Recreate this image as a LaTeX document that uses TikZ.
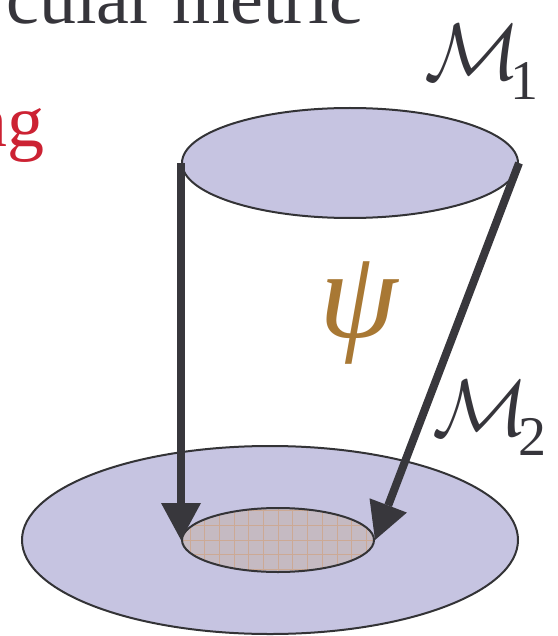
\RequirePackage{fix-cm}
\documentclass[tikz,border=0pt]{standalone}
\usepackage{fontspec}
\setmainfont{Liberation Serif}
\usepackage{tikz}
\usetikzlibrary{arrows.meta, shapes.geometric}
\definecolor{discfill}{RGB}{198,196,225}
\definecolor{rimgray}{RGB}{51,51,54}
\definecolor{arrowgray}{RGB}{56,55,60}
\definecolor{patchfill}{RGB}{197,186,194}
\definecolor{gridorange}{RGB}{214,150,96}
\definecolor{psibrown}{RGB}{168,120,52}
\definecolor{slidered}{RGB}{204,34,51}
\definecolor{slidegray}{RGB}{54,53,59}
\newcommand{\manlabel}[1]{$\mathcal{M}$\kern-10pt\raisebox{-20pt}{\fontsize{56}{60}\selectfont #1}}

\begin{document}
\begin{tikzpicture}[x=1pt, y=-1pt, line join=round,
    disc/.style={
        ellipse,
        draw=rimgray,
        line width=2pt,
        fill=discfill,
        inner sep=0pt
    },
    patch/.style={
        disc,
        fill=patchfill,
        path picture={\draw[gridorange, line width=0.5pt, opacity=0.45]
            (path picture bounding box.south west) grid[step=14.7pt]
            (path picture bounding box.north east);}
    },
    maparrow/.style={
        arrowgray,
        line width=8pt,
        -{Triangle[length=37pt, width=40pt, line width=0pt]}
    },
    slide/.style={
        font=\fontsize{74}{80}\selectfont,
        anchor=base east,
        inner sep=0pt
    },
    manifold/.style={
        font=\fontsize{80}{84}\selectfont,
        text=slidegray,
        anchor=base west,
        inner sep=0pt
    }
]
\useasboundingbox (0,0) rectangle (557,636);
\clip (0,0) rectangle (557,636);

% the two sheets and the image patch
\node[disc, minimum width=496pt, minimum height=188pt] (base) at (270,540) {};
\node[patch, minimum width=192pt, minimum height=64pt] (spot) at (278,540) {};
\node[disc, minimum width=336pt, minimum height=110pt] (top) at (350,163) {};

\draw[maparrow] (top.west) -- (spot.west);
\draw[maparrow] (top.east) -- (spot.east);

% labels
\node[slide, text=slidegray] (metric) at (362,24) {cular metric};
\node[slide, text=slidered] (ing) at (45,147) {ng};
\node[manifold] (m1) at (424,80) {\manlabel{1}};
\node[manifold] (m2) at (432,435) {\manlabel{2}};
\node[font=\fontsize{126}{130}\selectfont\itshape, text=psibrown] (psi) at (359,313) {ψ};

\end{tikzpicture}
\end{document}
